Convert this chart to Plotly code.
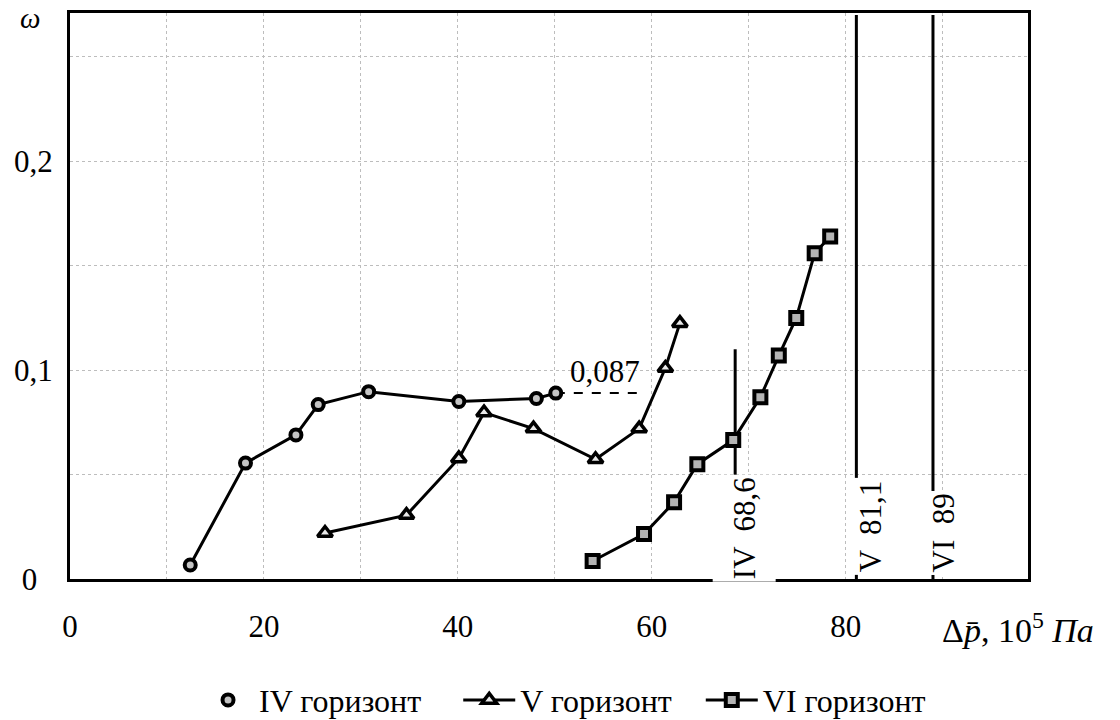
import plotly.graph_objects as go

# ---- data ----
iv_x = [12.4, 18.1, 23.3, 25.6, 30.8, 40.1, 48.1, 50.1]
iv_y = [0.0067, 0.0555, 0.069, 0.0835, 0.0897, 0.085, 0.0864, 0.089]

v_x = [26.3, 34.7, 40.1, 42.7, 47.8, 54.2, 58.7, 61.4, 62.9]
v_y = [0.022, 0.0306, 0.0577, 0.0797, 0.072, 0.0573, 0.072, 0.101, 0.1225]

vi_x = [53.9, 59.2, 62.3, 64.7, 68.4, 71.2, 73.1, 74.9, 76.8, 78.4]
vi_y = [0.0086, 0.0215, 0.0368, 0.055, 0.0665, 0.087, 0.107, 0.125, 0.156, 0.164]

series_names = ["IV горизонт", "V горизонт", "VI горизонт"]

limit_x = [68.6, 81.1, 89.0]
limit_top = [0.11, 0.27, 0.27]
limit_labels = ["IV  68,6", "V  81,1", "VI  89"]

note_x = [50.1, 58.5]
note_y = [0.089, 0.089]
note_text = "0,087"
note_label_x = 55.2

x_ticks = [0, 20, 40, 60, 80]
x_ticktext = ["0", "20", "40", "60", "80"]
y_ticks = [0, 0.1, 0.2]
y_ticktext = ["0\u00a0\u00a0", "0,1", "0,2"]

FONT = "Liberation Serif"
FS = 31
NB = "\u00a0"

fig = go.Figure()

# limit lines
for lx, lt in zip(limit_x, limit_top):
    fig.add_trace(go.Scatter(x=[lx, lx], y=[0, lt], mode="lines",
                             line=dict(color="black", width=3),
                             showlegend=False, hoverinfo="skip"))

# 0,087 leader
fig.add_trace(go.Scatter(x=note_x, y=note_y, mode="lines",
                         line=dict(color="black", width=2, dash="dash"),
                         showlegend=False, hoverinfo="skip"))

circle_marker = dict(symbol="circle", size=11, color="#c4c4c4",
                     line=dict(color="black", width=4))
tri_marker = dict(symbol="triangle-up", size=13, color="#e8e8e8",
                  line=dict(color="black", width=3.5))
sq_marker = dict(symbol="square", size=12, color="#b4b4b4",
                 line=dict(color="black", width=4))

fig.add_trace(go.Scatter(x=iv_x, y=iv_y, mode="lines+markers", name=series_names[0],
                         line=dict(color="black", width=3), marker=circle_marker,
                         showlegend=False))
# legend entry for IV shows only the marker, as in the reference
fig.add_trace(go.Scatter(x=[None], y=[None], mode="markers", name=series_names[0] + NB * 4,
                         marker=circle_marker))
fig.add_trace(go.Scatter(x=v_x, y=v_y, mode="lines+markers", name=series_names[1] + NB * 3,
                         line=dict(color="black", width=3), marker=tri_marker))
fig.add_trace(go.Scatter(x=vi_x, y=vi_y, mode="lines+markers", name=series_names[2],
                         line=dict(color="black", width=3), marker=sq_marker))

annotations = []
label_shift = [9, 14, 11]
label_height = [58, None, None]
for lx, lab, sh, hh in zip(limit_x, limit_labels, label_shift, label_height):
    a = dict(x=lx, y=0, xref="x", yref="y", text=lab, textangle=-90,
             showarrow=False, xanchor="center", yanchor="bottom",
             xshift=sh, yshift=(-3 if hh else 4), bgcolor="white", borderpad=2,
             font=dict(family=FONT, size=FS, color="black"))
    if hh:
        a["height"] = hh
    annotations.append(a)
annotations.append(dict(x=note_label_x, y=note_y[0], xref="x", yref="y",
                        text=note_text, showarrow=False, xanchor="center", yanchor="bottom",
                        yshift=2, font=dict(family=FONT, size=FS, color="black")))
annotations.append(dict(x=-0.042, y=1.0, xref="paper", yref="paper", text="<i>ω</i>",
                        showarrow=False, xanchor="center", yanchor="top", yshift=13,
                        font=dict(family=FONT, size=29, color="black")))
annotations.append(dict(x=0.908, y=-0.087, xref="paper", yref="paper",
                        text="Δ<i>p\u0304</i>, 10<sup>5</sup> <i>Па</i>",
                        showarrow=False, xanchor="left", yanchor="middle",
                        font=dict(family=FONT, size=34, color="black")))

grid_color = "#bdbdbd"
fig.update_layout(
    width=1120, height=720,
    margin=dict(l=70, r=92, t=13, b=141, autoexpand=False),
    paper_bgcolor="white", plot_bgcolor="white",
    font=dict(family=FONT, size=FS, color="black"),
    showlegend=True,
    legend=dict(orientation="h", x=0.1326, y=-0.214, xanchor="left", yanchor="middle",
                font=dict(family=FONT, size=32, color="black"), itemwidth=52,
                bgcolor="rgba(0,0,0,0)"),
    annotations=annotations,
    xaxis=dict(range=[0, 98.8], tickvals=x_ticks, ticktext=x_ticktext, ticks="",
               showgrid=True, gridcolor=grid_color, griddash="dot", gridwidth=1,
               minor=dict(dtick=10, tick0=0, showgrid=True, gridcolor=grid_color,
                          griddash="dot", gridwidth=1),
               showline=True, mirror=True, linecolor="black", linewidth=3,
               zeroline=False, ticklabelstandoff=18, automargin=False,
               tickfont=dict(family=FONT, size=FS, color="black")),
    yaxis=dict(range=[0, 0.271], tickvals=y_ticks, ticktext=y_ticktext, ticks="",
               showgrid=True, gridcolor=grid_color, griddash="dot", gridwidth=1,
               minor=dict(dtick=0.05, tick0=0, showgrid=True, gridcolor=grid_color,
                          griddash="dot", gridwidth=1),
               showline=True, mirror=True, linecolor="black", linewidth=3,
               zeroline=False, ticklabelstandoff=8, automargin=False,
               tickfont=dict(family=FONT, size=FS, color="black")),
)

fig.write_html("out.html", config={"displayModeBar": False},
               post_script="document.body.style.margin='0';")
